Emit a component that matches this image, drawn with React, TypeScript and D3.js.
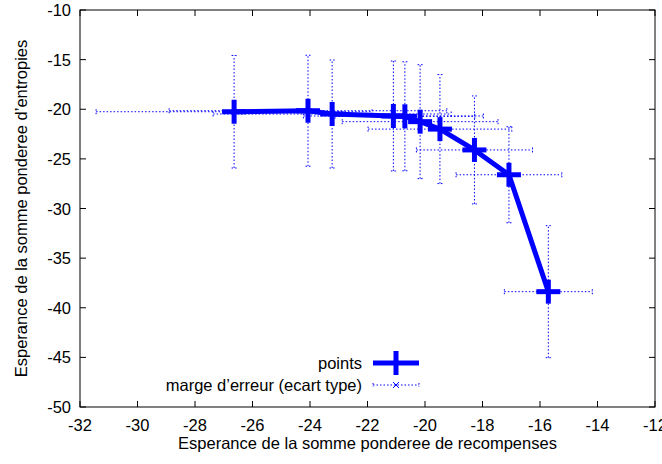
import React from "react";
import * as d3 from "d3";

const xValues = [-26.64, -24.07, -23.23, -21.1, -20.7, -20.17, -19.48, -18.28, -17.08, -15.71];
const yValues = [-20.25, -20.15, -20.48, -20.68, -20.71, -21.25, -22.0, -24.1, -26.6, -38.38];
const xErrors = [4.8, 4.83, 4.14, 3.13, 2.43, 2.71, 2.5, 2.02, 1.84, 1.53];
const yErrors = [5.67, 5.59, 5.44, 5.54, 5.49, 5.74, 5.49, 5.44, 4.84, 6.65];
const xTicks = [-32, -30, -28, -26, -24, -22, -20, -18, -16, -14, -12];
const yTicks = [-10, -15, -20, -25, -30, -35, -40, -45, -50];
const xLabel = "Esperance de la somme ponderee de recompenses";
const yLabel = "Esperance de la somme ponderee d\u2019entropies";
const legendLabels = ["points", "marge d\u2019erreur (ecart type)"];

const W = 662, H = 464;
const L = 80, R = 655, T = 10, B = 407;
const BLUE = "#0000ff";
const FONT = "Liberation Sans, Arial, Helvetica, sans-serif";
const FS = 16.5;

export default function App() {
  const x = d3.scaleLinear().domain([-32, -12]).range([L, R]);
  const y = d3.scaleLinear().domain([-50, -10]).range([B, T]);
  const pts = xValues.map((v, i) => ({ x: v, y: yValues[i], ex: xErrors[i], ey: yErrors[i] }));
  const line = d3.line<{ x: number; y: number }>().x(d => x(d.x)).y(d => y(d.y));
  const dash = "1.5,2";
  const cap = 2.5;
  const plus = 12;

  return (
    <svg width={W} height={H} style={{ position: "absolute", left: 0, top: 0, background: "#fff" }} fontFamily={FONT}>
      <rect x={0} y={0} width={W} height={H} fill="#fff" />
      {xTicks.map(t => (
        <g key={"xt" + t}>
          <line x1={x(t)} x2={x(t)} y1={B} y2={B - 6} stroke="#000" />
          <line x1={x(t)} x2={x(t)} y1={T} y2={T + 6} stroke="#000" />
          <text x={x(t)} y={B + 24} textAnchor="middle" fontSize={FS}>{t}</text>
        </g>
      ))}
      {yTicks.map(t => (
        <g key={"yt" + t}>
          <line x1={L} x2={L + 6} y1={y(t)} y2={y(t)} stroke="#000" />
          <line x1={R} x2={R - 6} y1={y(t)} y2={y(t)} stroke="#000" />
          <text x={L - 9} y={y(t) + 6} textAnchor="end" fontSize={FS}>{t}</text>
        </g>
      ))}
      <rect x={L} y={T} width={R - L} height={B - T} fill="none" stroke="#000" strokeWidth={1} />
      <text x={(L + R) / 2} y={449} textAnchor="middle" fontSize={FS}>{xLabel}</text>
      <text transform={`translate(27,${(T + B) / 2}) rotate(-90)`} textAnchor="middle" fontSize={FS}>{yLabel}</text>

      <g stroke={BLUE} strokeWidth={1} strokeDasharray={dash} fill="none">
        {pts.map((p, i) => (
          <g key={"e" + i}>
            <line x1={x(p.x - p.ex)} x2={x(p.x + p.ex)} y1={y(p.y)} y2={y(p.y)} />
            <line x1={x(p.x - p.ex)} x2={x(p.x - p.ex)} y1={y(p.y) - cap} y2={y(p.y) + cap} />
            <line x1={x(p.x + p.ex)} x2={x(p.x + p.ex)} y1={y(p.y) - cap} y2={y(p.y) + cap} />
            <line x1={x(p.x)} x2={x(p.x)} y1={y(p.y - p.ey)} y2={y(p.y + p.ey)} />
            <line x1={x(p.x) - cap} x2={x(p.x) + cap} y1={y(p.y - p.ey)} y2={y(p.y - p.ey)} />
            <line x1={x(p.x) - cap} x2={x(p.x) + cap} y1={y(p.y + p.ey)} y2={y(p.y + p.ey)} />
          </g>
        ))}
      </g>

      <path d={line(pts) || ""} fill="none" stroke={BLUE} strokeWidth={5} strokeLinejoin="round" />
      <g stroke={BLUE} strokeWidth={5}>
        {pts.map((p, i) => (
          <g key={"p" + i}>
            <line x1={x(p.x) - plus} x2={x(p.x) + plus} y1={y(p.y)} y2={y(p.y)} />
            <line x1={x(p.x)} x2={x(p.x)} y1={y(p.y) - plus} y2={y(p.y) + plus} />
          </g>
        ))}
      </g>

      <text x={362} y={369} textAnchor="end" fontSize={FS}>{legendLabels[0]}</text>
      <line x1={373} x2={419} y1={363} y2={363} stroke={BLUE} strokeWidth={5} />
      <line x1={396} x2={396} y1={363 - plus} y2={363 + plus} stroke={BLUE} strokeWidth={5} />

      <text x={362} y={391} textAnchor="end" fontSize={FS}>{legendLabels[1]}</text>
      <g stroke={BLUE} strokeWidth={1} fill="none">
        <line x1={373} x2={419} y1={385} y2={385} strokeDasharray={dash} />
        <line x1={373} x2={373} y1={383} y2={387} strokeDasharray={dash} />
        <line x1={419} x2={419} y1={383} y2={387} strokeDasharray={dash} />
        <line x1={393} x2={399} y1={382} y2={388} />
        <line x1={393} x2={399} y1={388} y2={382} />
      </g>
    </svg>
  );
}
